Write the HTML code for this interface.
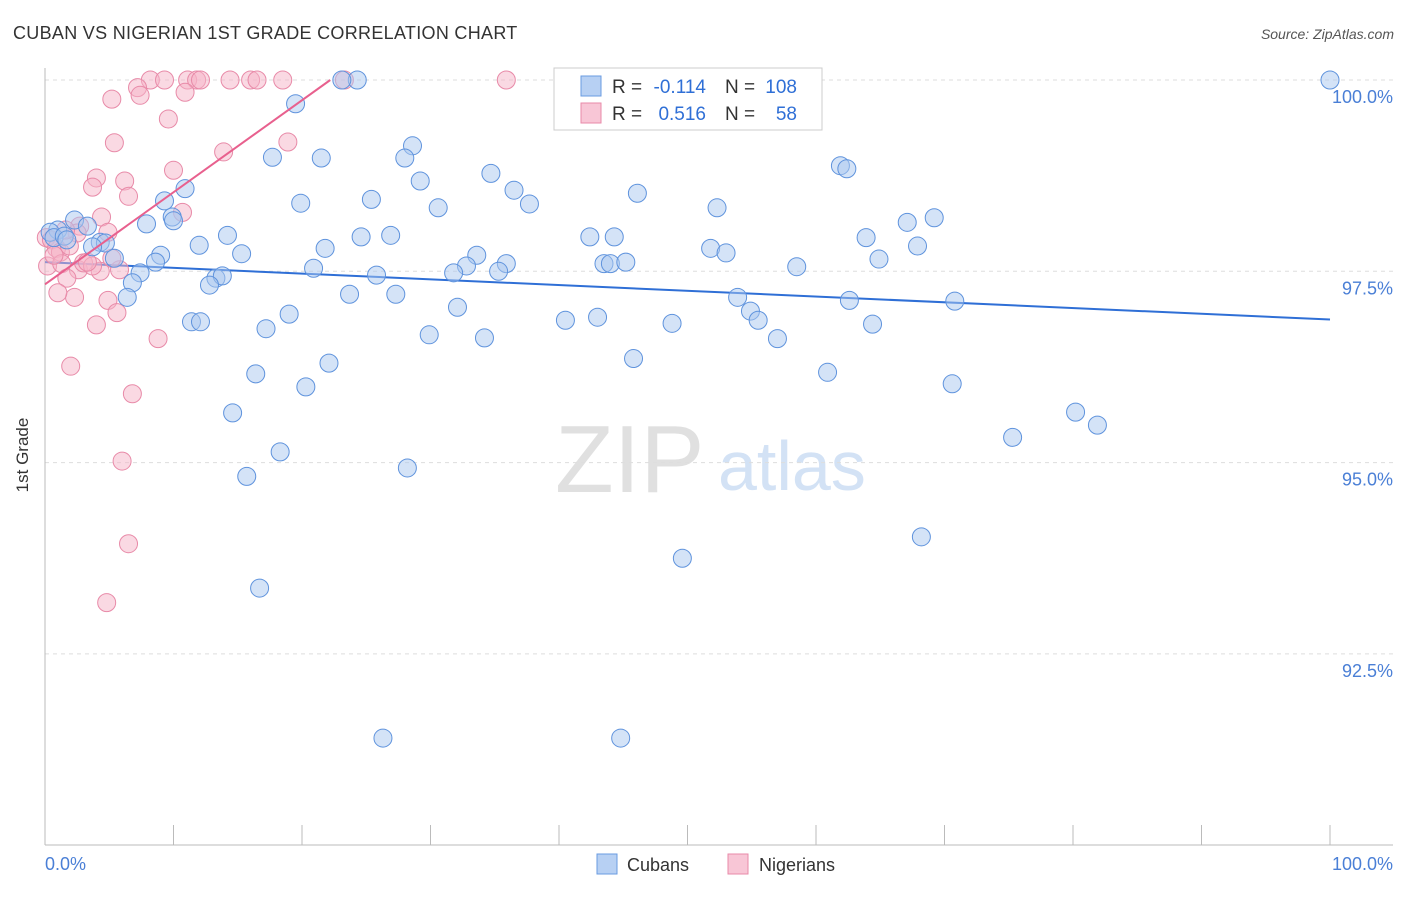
<!DOCTYPE html>
<html><head><meta charset="utf-8"><style>
body{margin:0;background:#fff;font-family:"Liberation Sans",sans-serif}
svg text{font-family:"Liberation Sans",sans-serif}
</style></head><body>
<svg width="1406" height="892" xmlns="http://www.w3.org/2000/svg">
<text x="13" y="39" font-size="18" letter-spacing="0.3" fill="#333">CUBAN VS NIGERIAN 1ST GRADE CORRELATION CHART</text>
<text x="1394" y="39" font-size="14" fill="#555" font-style="italic" text-anchor="end">Source: ZipAtlas.com</text>
<g>
<text x="555" y="492" font-size="96" fill="#e0e0e0" font-family="Liberation Serif">ZIP</text>
<text x="718" y="490" font-size="70" fill="#d3e2f5">atlas</text>
</g>
<g id="grid"></g>
<g id="axes"></g>
<line x1="45" y1="262" x2="1330" y2="319" id="blueTrend" stroke="#2f6fd6" stroke-width="2"/>
<g id="pts"></g>
<line id="pinkTrend" stroke="#e8608e" stroke-width="2"/>
<text x="28" y="455" font-size="17" fill="#333" text-anchor="middle" transform="rotate(-90 28 455)">1st Grade</text>
<text x="45" y="870" font-size="18" fill="#4a7fd6">0.0%</text>
<text x="1393" y="870" font-size="18" fill="#4a7fd6" text-anchor="end">100.0%</text>
<g>
<rect x="554" y="68" width="268" height="62" fill="#fff" stroke="#ccc"/>
<rect x="581" y="76" width="20" height="20" fill="#b7d0f3" stroke="#6a9be0"/>
<rect x="581" y="103" width="20" height="20" fill="#f8c6d6" stroke="#e88aa8"/>
<text x="612" y="93" font-size="19" fill="#333">R =</text>
<text x="706" y="93" font-size="19" fill="#2f6fd6" text-anchor="end">-0.114</text>
<text x="725" y="93" font-size="19" fill="#333">N =</text>
<text x="797" y="93" font-size="19" fill="#2f6fd6" text-anchor="end">108</text>
<text x="612" y="120" font-size="19" fill="#333">R =</text>
<text x="706" y="120" font-size="19" fill="#2f6fd6" text-anchor="end">0.516</text>
<text x="725" y="120" font-size="19" fill="#333">N =</text>
<text x="797" y="120" font-size="19" fill="#2f6fd6" text-anchor="end">58</text>
</g>
<g>
<rect x="597" y="854" width="20" height="20" fill="#b7d0f3" stroke="#6a9be0"/>
<text x="627" y="871" font-size="18" fill="#333">Cubans</text>
<rect x="728" y="854" width="20" height="20" fill="#f8c6d6" stroke="#e88aa8"/>
<text x="759" y="871" font-size="18" fill="#333">Nigerians</text>
</g>
</svg>
<script>
const yTicks=[100,97.5,95,92.5];
const yTickLabels=["100.0%","97.5%","95.0%","92.5%"];
const xTicks=[0,10,20,30,40,50,60,70,80,90,100];
const cubanX=[100,24.3,23.1,19.5,28.6,17.7,21.5,28.0,61.9,62.4,29.2,34.7,36.5,46.1,10.9,37.7,19.9,25.4,30.6,52.3,9.3,67.1,69.2,9.9,10.0,7.9,2.3,3.3,1.0,0.4,0.7,1.5,1.7,4.3,4.7,3.7,5.4,14.2,12.0,15.3,9.0,8.6,24.6,26.9,42.4,44.3,51.8,53.0,63.9,67.9,21.8,33.6,32.8,31.8,35.9,35.3,43.5,44.0,45.2,58.5,64.9,20.9,25.8,13.3,13.8,12.8,7.4,6.8,6.4,23.7,27.3,32.1,53.9,62.6,70.8,54.9,55.5,40.5,43.0,48.8,64.4,19.0,11.4,12.1,17.2,29.9,34.2,57.0,45.8,22.1,60.9,16.4,20.3,70.6,14.6,80.2,81.9,75.3,18.3,28.2,15.7,68.2,49.6,16.7,26.3,44.8];
const cubanY=[100,100,100,99.69,99.14,98.99,98.98,98.98,98.88,98.84,98.68,98.78,98.56,98.52,98.58,98.38,98.39,98.44,98.33,98.33,98.42,98.14,98.20,98.21,98.16,98.12,98.17,98.09,98.04,98.01,97.94,97.96,97.91,97.88,97.87,97.82,97.67,97.97,97.84,97.73,97.71,97.62,97.95,97.97,97.95,97.95,97.80,97.74,97.94,97.83,97.80,97.71,97.57,97.48,97.60,97.50,97.60,97.60,97.62,97.56,97.66,97.54,97.45,97.41,97.44,97.32,97.48,97.35,97.16,97.20,97.20,97.03,97.16,97.12,97.11,96.98,96.86,96.86,96.90,96.82,96.81,96.94,96.84,96.84,96.75,96.67,96.63,96.62,96.36,96.30,96.18,96.16,95.99,96.03,95.65,95.66,95.49,95.33,95.14,94.93,94.82,94.03,93.75,93.36,91.40,91.40];
const nigX=[8.2,9.3,11.1,11.8,12.1,14.4,16.0,16.5,18.5,23.3,35.9,7.2,10.9,5.2,7.4,9.6,5.4,18.9,13.9,10.0,4.0,6.2,3.7,6.5,10.7,4.4,2.7,4.9,2.5,0.1,0.5,0.9,1.2,1.9,0.2,1.3,2.6,3.0,4.3,5.8,1.7,3.7,4.9,2.3,1.0,5.6,4.0,8.8,2.0,6.8,6.0,6.5,4.8,3.3,5.2,0.7,1.6];
const nigY=[100,100,100,100,100,100,100,100,100,100,100,99.90,99.84,99.75,99.80,99.49,99.18,99.19,99.06,98.82,98.72,98.68,98.60,98.48,98.27,98.21,98.09,98.01,98.00,97.94,97.91,97.80,97.75,97.83,97.57,97.60,97.52,97.61,97.50,97.52,97.41,97.57,97.12,97.16,97.22,96.96,96.80,96.62,96.26,95.90,95.02,93.94,93.17,97.62,97.67,97.71,98.04];
const cubanTrend=[97.62,96.87];
const nigTrend=[97.33,100];
const NS="http://www.w3.org/2000/svg";
function xs(v){return 45+v*12.85;}
function ys(v){return 80+(100-v)*76.52;}
const grid=document.getElementById('grid'),axes=document.getElementById('axes'),pts=document.getElementById('pts');
yTicks.forEach((t,i)=>{
 const l=document.createElementNS(NS,'line');
 l.setAttribute('x1',45);l.setAttribute('x2',1393);l.setAttribute('y1',ys(t));l.setAttribute('y2',ys(t));
 l.setAttribute('stroke','#ddd');l.setAttribute('stroke-dasharray','4 4');
 
 
 grid.appendChild(l);
 const tx=document.createElementNS(NS,'text');
 tx.setAttribute('x',1393);tx.setAttribute('y',ys(t)+23);tx.setAttribute('text-anchor','end');
 tx.setAttribute('font-size','18');tx.setAttribute('fill','#4a7fd6');tx.textContent=yTickLabels[i];
 
 
 grid.appendChild(tx);
});
function ln(x1,y1,x2,y2,c){const l=document.createElementNS(NS,'line');l.setAttribute('x1',x1);l.setAttribute('y1',y1);l.setAttribute('x2',x2);l.setAttribute('y2',y2);l.setAttribute('stroke',c);return l;}
const xa=ln(45,845,1393,845,'#bbb');


axes.appendChild(xa);
const ya=ln(45,68,45,845,'#bbb');


axes.appendChild(ya);
xTicks.forEach(t=>{const l=ln(xs(t),825,xs(t),845,'#bbb');
 
 
 axes.appendChild(l);});
function dots(X,Y,fill,stroke,name){
 X.forEach((x,i)=>{const c=document.createElementNS(NS,'circle');
  c.setAttribute('cx',xs(x));c.setAttribute('cy',ys(Y[i]));c.setAttribute('r',9);
  c.setAttribute('fill',fill);c.setAttribute('fill-opacity','0.5');c.setAttribute('stroke',stroke);c.setAttribute('stroke-width','1');
  
  
  pts.appendChild(c);});
}
dots(nigX,nigY,'#f5b3c8','#e88aa8','nigerian-point');
dots(cubanX,cubanY,'#a9c8f0','#5f93dd','cuban-point');
const bt=document.getElementById('blueTrend');
bt.setAttribute('x1',xs(0));bt.setAttribute('y1',ys(cubanTrend[0]));bt.setAttribute('x2',xs(100));bt.setAttribute('y2',ys(cubanTrend[1]));
const pt=document.getElementById('pinkTrend');
pt.setAttribute('x1',xs(0));pt.setAttribute('y1',ys(nigTrend[0]));pt.setAttribute('x2',xs(22.2));pt.setAttribute('y2',ys(nigTrend[1]));
</script>
</body></html>
